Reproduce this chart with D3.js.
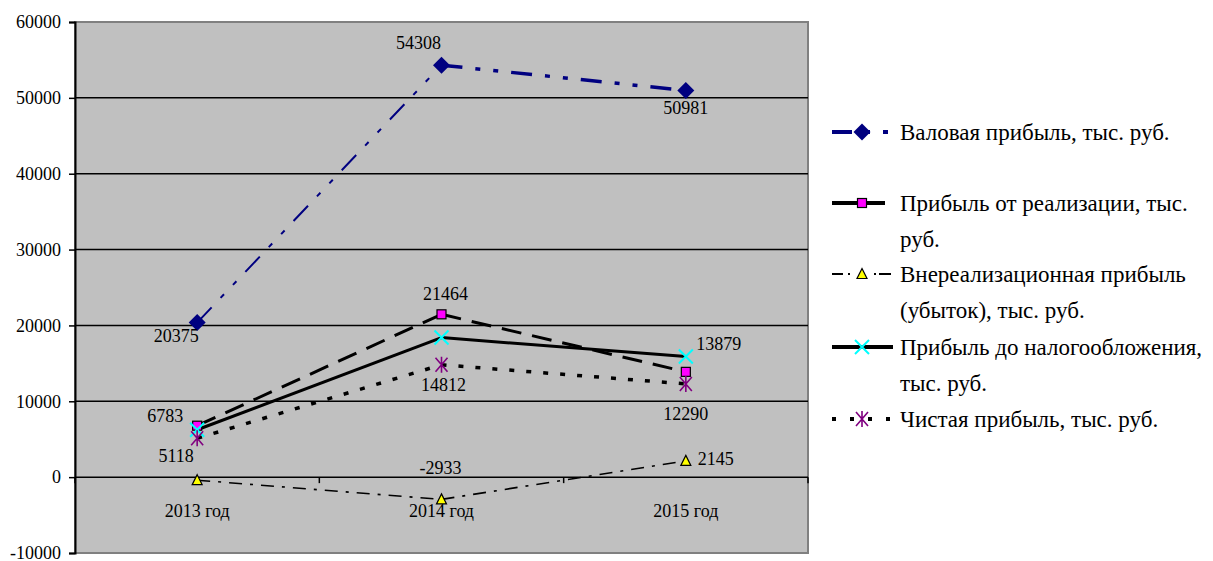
<!DOCTYPE html>
<html><head><meta charset="utf-8">
<script src="https://cdn.jsdelivr.net/npm/d3@7"></script>
<style>body{margin:0;background:#fff}svg{display:block}text{font-family:"Liberation Serif","Times New Roman",serif;fill:#000}</style>
</head><body><svg id="c" width="1213" height="561"></svg>
<script>
const categories = ["2013 год", "2014 год", "2015 год"];
const yTicks = [-10000, 0, 10000, 20000, 30000, 40000, 50000, 60000];
const seriesNames = [
  "Валовая прибыль, тыс. руб.",
  "Прибыль от реализации, тыс. руб.",
  "Внереализационная прибыль (убыток), тыс. руб.",
  "Прибыль до налогообложения, тыс. руб.",
  "Чистая прибыль, тыс. руб."
];
const valovaya = [20375, 54308, 50981];
const realizacii = [6783, 21464, 13879];
const vnereal = [-400, -2933, 2145];
const doNaloga = [6250, 18400, 15900];
const chistaya = [5118, 14812, 12290];
// labelled points: [seriesIndex, categoryIndex, text]
const labels = [
  [0, 0, "20375"], [0, 1, "54308"], [0, 2, "50981"],
  [1, 0, "6783"], [1, 1, "21464"], [1, 2, "13879"],
  [2, 1, "-2933"], [2, 2, "2145"],
  [4, 0, "5118"], [4, 1, "14812"], [4, 2, "12290"]
];

const values = [valovaya, realizacii, vnereal, doNaloga, chistaya];
// label offsets (styling)
const labelOff = {
  "0-0": [-21, 19], "0-1": [-23, -16], "0-2": [0, 24],
  "1-0": [-32, -4], "1-1": [4, -14], "1-2": [33, -22],
  "2-1": [-1, -25], "2-2": [30, 4],
  "4-0": [-21, 24], "4-1": [2, 26], "4-2": [0, 36]
};

const svg = d3.select("#c");
const L = 75, R = 808, T = 22, B = 553;
const x = d3.scalePoint().domain(categories).range([L, R]).padding(0.5);
const y = d3.scaleLinear().domain([-10000, 60000]).range([B, T]);

svg.append("rect").attr("x", L).attr("y", T).attr("width", R - L).attr("height", B - T)
  .attr("fill", "#c0c0c0").attr("stroke", "#808080").attr("stroke-width", 2);

// gridlines
svg.append("g").selectAll("line").data(yTicks.filter(d => d > -10000 && d < 60000)).join("line")
  .attr("x1", L).attr("x2", R).attr("y1", d => y(d)).attr("y2", d => y(d))
  .attr("stroke", "#000").attr("stroke-width", 1.5);

// y axis
const yAxis = svg.append("g").attr("transform", `translate(${L},0)`)
  .call(d3.axisLeft(y).tickValues(yTicks).tickSize(6).tickPadding(8).tickFormat(d => String(d)));
yAxis.select(".domain").attr("stroke", "#000").attr("stroke-width", 2);
yAxis.selectAll(".tick line").attr("stroke", "#000").attr("stroke-width", 1.5);
yAxis.selectAll("text").style("font-family", "Liberation Serif").style("font-size", "18px").attr("fill", "#000");

// x axis at zero
const bw = x.step();
const xTickPos = [0, 1, 2, 3].map(i => L + i * bw);
svg.append("g").selectAll("line").data(xTickPos).join("line")
  .attr("x1", d => d).attr("x2", d => d).attr("y1", y(0)).attr("y2", y(0) + 6)
  .attr("stroke", "#000").attr("stroke-width", 1.5);
svg.append("g").selectAll("text").data(categories).join("text")
  .attr("x", d => x(d)).attr("y", y(0) + 40).attr("text-anchor", "middle")
  .style("font-size", "18px").text(d => d);

// line styles per segment
const segStyles = [
  [{c: "#000080", w: 2, d: "21,13,5,13,5,13"}, {c: "#000080", w: 3.5, d: "21,13,5,13,5,13"}],
  [{c: "#000", w: 3, d: "20,11"}, {c: "#000", w: 3, d: "20,11"}],
  [{c: "#000", w: 1.6, d: "13,8,3,8"}, {c: "#000", w: 1.6, d: "13,8,3,8"}],
  [{c: "#000", w: 3, d: null}, {c: "#000", w: 3, d: null}],
  [{c: "#000", w: 3.5, d: "5,12"}, {c: "#000", w: 3.5, d: "5,12"}]
];
values.forEach((vals, si) => {
  for (let i = 0; i < vals.length - 1; i++) {
    const s = segStyles[si][i];
    svg.append("line")
      .attr("x1", x(categories[i])).attr("y1", y(vals[i]))
      .attr("x2", x(categories[i + 1])).attr("y2", y(vals[i + 1]))
      .attr("stroke", s.c).attr("stroke-width", s.w)
      .attr("stroke-dasharray", s.d);
  }
});

function marker(g, si, cx, cy) {
  if (si === 0) {
    g.append("path").attr("d", `M${cx},${cy-8.5}L${cx+8.5},${cy}L${cx},${cy+8.5}L${cx-8.5},${cy}Z`).attr("fill", "#000080");
  } else if (si === 1) {
    g.append("rect").attr("x", cx - 4.5).attr("y", cy - 4.5).attr("width", 9).attr("height", 9)
      .attr("fill", "#ff00ff").attr("stroke", "#000").attr("stroke-width", 1.2);
  } else if (si === 2) {
    g.append("path").attr("d", `M${cx},${cy-5.5}L${cx+5},${cy+4.5}L${cx-5},${cy+4.5}Z`)
      .attr("fill", "#ffff00").attr("stroke", "#000").attr("stroke-width", 1.2);
  } else if (si === 3) {
    g.append("path").attr("d", `M${cx-7},${cy-7}L${cx+7},${cy+7}M${cx-7},${cy+7}L${cx+7},${cy-7}`)
      .attr("stroke", "#00ffff").attr("stroke-width", 2);
  } else {
    g.append("path").attr("d", `M${cx-6},${cy-7}L${cx+6},${cy+7}M${cx-6},${cy+7}L${cx+6},${cy-7}M${cx},${cy-8}L${cx},${cy+8}`)
      .attr("stroke", "#800080").attr("stroke-width", 1.6);
  }
}
const mg = svg.append("g");
values.forEach((vals, si) => vals.forEach((v, i) => marker(mg, si, x(categories[i]), y(v))));

// data labels
svg.append("g").selectAll("text").data(labels).join("text")
  .attr("x", d => x(categories[d[1]]) + labelOff[d[0] + "-" + d[1]][0])
  .attr("y", d => y(values[d[0]][d[1]]) + labelOff[d[0] + "-" + d[1]][1])
  .attr("text-anchor", "middle").style("font-size", "18px").text(d => d[2]);

// legend
const legLines = [
  ["Валовая прибыль, тыс. руб."],
  ["Прибыль от реализации, тыс.", "руб."],
  ["Внереализационная прибыль", "(убыток), тыс. руб."],
  ["Прибыль до налогообложения,", "тыс. руб."],
  ["Чистая прибыль, тыс. руб."]
];
const legY = [132, 203, 274, 347, 419];
const legStyle = [
  {c: "#000080", w: 4, d: "20,13,5,13,5,13", x2: 889},
  {c: "#000", w: 4, d: null, x2: 885},
  {c: "#000", w: 2, d: "11,5,2,24,2,3,12", x2: 891},
  {c: "#000", w: 4, d: null, x2: 893},
  {c: "#000", w: 4, d: "4,14", x2: 891}
];
const lg = svg.append("g");
seriesNames.forEach((n, si) => {
  const cy = legY[si], s = legStyle[si];
  lg.append("line").attr("x1", 832).attr("x2", s.x2).attr("y1", cy).attr("y2", cy)
    .attr("stroke", s.c).attr("stroke-width", s.w).attr("stroke-dasharray", s.d);
  marker(lg, si, 862, cy);
  legLines[si].forEach((t, k) => {
    lg.append("text").attr("x", 900).attr("y", cy + 8 + k * 36).style("font-size", "23px").text(t);
  });
});
</script></body></html>
